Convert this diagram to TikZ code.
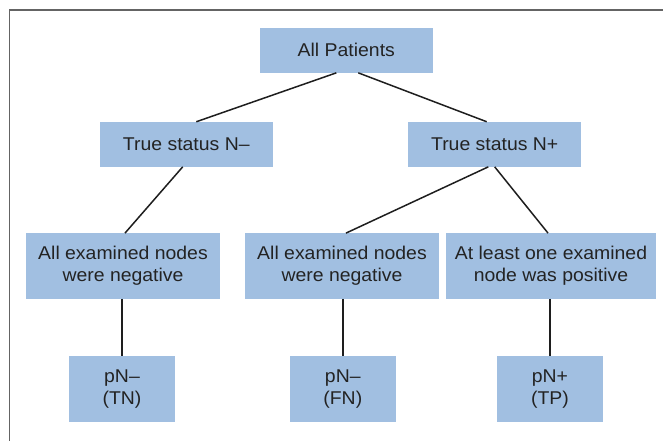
\documentclass[tikz,border=0pt]{standalone}
\usepackage{fontspec}
\setmainfont[FakeStretch=1.05]{Liberation Sans}
\definecolor{boxblue}{RGB}{161,191,225}
\definecolor{txt}{RGB}{35,35,35}
\definecolor{framegray}{RGB}{100,100,100}
\definecolor{linec}{RGB}{30,30,30}
\begin{document}
\begin{tikzpicture}[x=1pt,y=-1pt,
  box/.style={fill=boxblue, draw=none, inner sep=0pt, align=center, text=txt,
    font=\fontsize{18.5}{22}\selectfont},
  top/.style={box, minimum width=172.7pt, minimum height=44.7pt},
  mid/.style={box, minimum height=65.4pt},
  leaf/.style={box, minimum width=106pt, minimum height=65.7pt},
  conn/.style={draw=linec, line width=1.5pt},
  frame/.style={draw=framegray, line width=1.5pt}]
\useasboundingbox (0,0) rectangle (663,441);
\draw[frame] (663,10) -- (9.7,10) -- (9.7,441);

\node[top] (ap) at (346.3,50.3) {All Patients};
\node[top] (nm) at (186.3,144.3) {True status N–};
\node[top] (np) at (494.7,144.3) {True status N+};

\node[mid, minimum width=194pt] (a) at (123,266) {All examined nodes\\were negative};
\node[mid, minimum width=194pt] (b) at (342,266) {All examined nodes\\were negative};
\node[mid, minimum width=210pt] (c) at (551,266) {At least one examined\\node was positive};

\node[leaf] (d) at (122,388.8) {pN–\\(TN)};
\node[leaf] (e) at (342.8,388.8) {pN–\\(FN)};
\node[leaf] (f) at (550,388.8) {pN+\\(TP)};

\draw[conn] ([xshift=-10pt]ap.south) -- ([xshift=10pt]nm.north);
\draw[conn] ([xshift=12pt]ap.south) -- ([xshift=-8pt]np.north);
\draw[conn] ([xshift=-3.6pt]nm.south) -- ([xshift=2pt]a.north);
\draw[conn] ([xshift=-6.4pt]np.south) -- ([xshift=4pt]b.north);
\draw[conn] ([xshift=0pt]np.south) -- ([xshift=-3pt]c.north);
\draw[conn] (a.south -| d.north) -- (d.north);
\draw[conn] (b.south -| e.north) -- (e.north);
\draw[conn] (c.south -| f.north) -- (f.north);
\end{tikzpicture}
\end{document}
